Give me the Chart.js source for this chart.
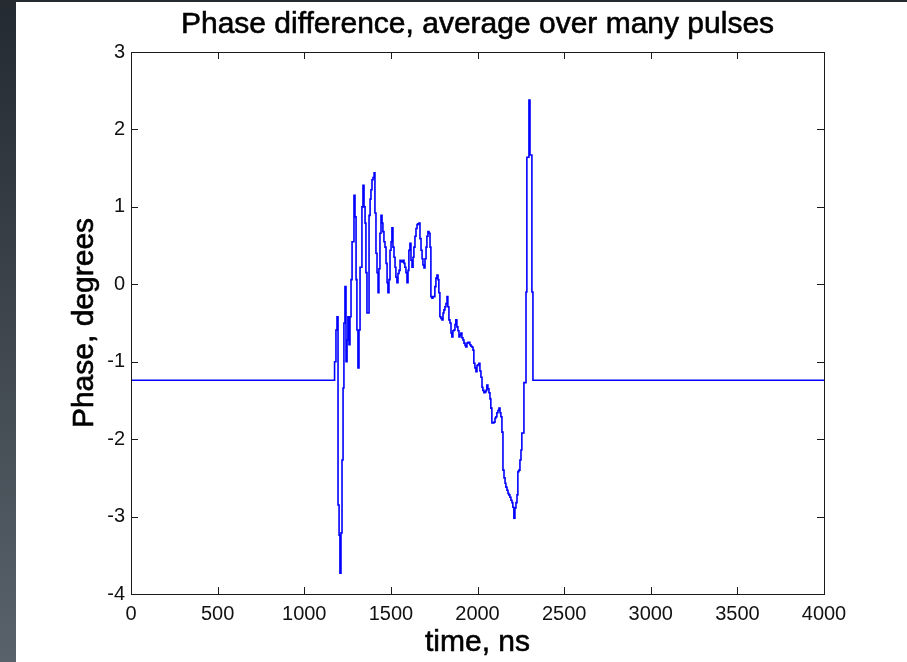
<!DOCTYPE html>
<html>
<head>
<meta charset="utf-8">
<script src="https://cdn.jsdelivr.net/npm/chart.js@4/dist/chart.umd.min.js"></script>
<style>
  html, body { margin: 0; padding: 0; width: 907px; height: 662px; overflow: hidden; background: #ffffff; }
  #strip { position: absolute; left: 0; top: 0; width: 16px; height: 662px; background: linear-gradient(#242a31, #59626b); }
  #topstrip { position: absolute; left: 0; top: 0; width: 907px; height: 2px; background: #262b31; }
  #c { position: absolute; left: 0; top: 0; }
</style>
</head>
<body>
<div id="strip"></div>
<div id="topstrip"></div>
<canvas id="c" width="907" height="662"></canvas>
<script>
const chartTitle = 'Phase difference, average over many pulses';
const xAxisTitle = 'time, ns';
const yAxisTitle = 'Phase, degrees';
const xTickValues = [0, 500, 1000, 1500, 2000, 2500, 3000, 3500, 4000];
const xTickLabels = ['0', '500', '1000', '1500', '2000', '2500', '3000', '3500', '4000'];
const yTickValues = [-4, -3, -2, -1, 0, 1, 2, 3];
const yTickLabels = ['-4', '-3', '-2', '-1', '0', '1', '2', '3'];

const timeNs = [0, 1175, 1183, 1189, 1195, 1201, 1206, 1212, 1218, 1224, 1229, 1235, 1241, 1247, 1252, 1258, 1264, 1270, 1276, 1281, 1287, 1293, 1299, 1304, 1310, 1316, 1322, 1327, 1333, 1339, 1345, 1351, 1356, 1362, 1368, 1374, 1380, 1385, 1391, 1397, 1403, 1408, 1414, 1420, 1426, 1431, 1437, 1443, 1449, 1454, 1460, 1466, 1472, 1478, 1483, 1489, 1495, 1501, 1506, 1512, 1518, 1524, 1529, 1535, 1541, 1547, 1553, 1558, 1564, 1570, 1576, 1581, 1587, 1593, 1599, 1604, 1610, 1616, 1622, 1628, 1633, 1639, 1645, 1651, 1656, 1662, 1668, 1674, 1680, 1685, 1691, 1697, 1703, 1708, 1714, 1720, 1726, 1731, 1737, 1743, 1749, 1754, 1760, 1766, 1772, 1777, 1783, 1789, 1795, 1801, 1806, 1812, 1818, 1824, 1829, 1835, 1841, 1847, 1852, 1858, 1864, 1870, 1875, 1881, 1887, 1893, 1899, 1904, 1910, 1916, 1922, 1928, 1933, 1939, 1945, 1951, 1956, 1962, 1968, 1974, 1979, 1985, 1991, 1997, 2002, 2008, 2014, 2020, 2026, 2031, 2037, 2043, 2049, 2054, 2060, 2066, 2072, 2077, 2083, 2089, 2095, 2101, 2106, 2112, 2118, 2124, 2130, 2135, 2141, 2147, 2153, 2159, 2164, 2170, 2176, 2181, 2187, 2193, 2199, 2204, 2210, 2216, 2222, 2228, 2233, 2239, 2245, 2251, 2256, 2262, 2268, 2274, 2280, 2285, 2291, 2297, 2303, 2308, 2314, 2320, 2326, 4000];

const phaseDeg = [-1.24, -1.24, -1.00, -0.59, -0.42, -2.85, -3.24, -3.73, -3.21, -2.27, -1.34, -0.50, -0.03, -1.00, -0.72, -0.42, -0.78, -0.42, 0.06, 0.55, 0.55, 1.15, 0.87, 0.06, -0.59, -1.08, -0.59, 0.22, 0.22, 1.00, 1.28, 1.00, 0.79, 0.15, -0.37, -0.37, 0.89, 1.10, 1.22, 1.35, 1.38, 1.44, 0.92, 0.40, 0.15, -0.11, 0.20, 0.66, 0.89, 0.79, 0.68, 0.55, 0.48, 0.27, 0.02, -0.11, 0.06, 0.44, 0.55, 0.73, 0.48, 0.35, 0.22, 0.09, 0.02, 0.14, 0.18, 0.31, 0.30, 0.29, 0.31, 0.27, 0.22, 0.15, 0.02, 0.18, 0.44, 0.53, 0.31, 0.22, 0.35, 0.48, 0.62, 0.72, 0.77, 0.78, 0.79, 0.59, 0.44, 0.33, 0.25, 0.21, 0.33, 0.48, 0.62, 0.68, 0.66, 0.48, -0.16, -0.18, -0.16, -0.16, -0.03, 0.08, 0.12, 0.06, -0.11, -0.42, -0.44, -0.46, -0.37, -0.33, -0.29, -0.25, -0.16, -0.29, -0.46, -0.50, -0.63, -0.68, -0.60, -0.59, -0.52, -0.46, -0.55, -0.60, -0.68, -0.65, -0.63, -0.69, -0.72, -0.76, -0.79, -0.81, -0.76, -0.75, -0.75, -0.78, -0.80, -0.81, -0.85, -1.02, -1.08, -1.13, -1.05, -1.04, -1.02, -1.12, -1.20, -1.33, -1.37, -1.40, -1.39, -1.37, -1.30, -1.35, -1.40, -1.48, -1.60, -1.79, -1.79, -1.78, -1.73, -1.71, -1.66, -1.63, -1.60, -1.66, -1.71, -1.91, -2.40, -2.50, -2.57, -2.62, -2.66, -2.70, -2.72, -2.75, -2.79, -2.82, -2.88, -3.02, -2.89, -2.82, -2.72, -2.42, -2.40, -2.27, -2.14, -1.92, -1.92, -1.27, -1.27, -0.10, 1.64, 1.64, 2.38, 1.67, 1.67, -0.10, -1.24, -1.24];

const points = timeNs.map((t, i) => ({ x: t, y: phaseDeg[i] }));

const tickFont = { family: "'Liberation Sans', Arial, sans-serif", size: 20 };
const bigFont = '30px "Liberation Sans", Arial, sans-serif';

function heavyText(ctx, text, x, y) {
  ctx.fillText(text, x, y);
  ctx.strokeText(text, x, y);
}

const boxTicksTitles = {
  id: 'boxTicksTitles',
  afterDraw(chart) {
    const { ctx, chartArea: a, scales: { x, y } } = chart;
    const len = 7;
    ctx.save();
    ctx.strokeStyle = '#1a1a1a';
    ctx.lineWidth = 1;
    ctx.beginPath();
    xTickValues.forEach(v => {
      if (v === x.min || v === x.max) return;
      const px = Math.round(x.getPixelForValue(v)) + 0.5;
      ctx.moveTo(px, a.bottom); ctx.lineTo(px, a.bottom - len);
      ctx.moveTo(px, a.top); ctx.lineTo(px, a.top + len);
    });
    yTickValues.forEach(v => {
      if (v === y.min || v === y.max) return;
      const py = Math.round(y.getPixelForValue(v)) + 0.5;
      ctx.moveTo(a.left, py); ctx.lineTo(a.left + len, py);
      ctx.moveTo(a.right, py); ctx.lineTo(a.right - len, py);
    });
    ctx.stroke();
    ctx.strokeRect(Math.round(a.left) + 0.5, Math.round(a.top) + 0.5, Math.round(a.right - a.left), Math.round(a.bottom - a.top));

    ctx.font = bigFont;
    ctx.fillStyle = '#000000';
    ctx.strokeStyle = '#000000';
    ctx.lineWidth = 0.6;
    ctx.textAlign = 'center';
    ctx.textBaseline = 'alphabetic';
    const cx = (a.left + a.right) / 2;
    const cy = (a.top + a.bottom) / 2;
    heavyText(ctx, chartTitle, cx, 33);
    heavyText(ctx, xAxisTitle, cx, 651);
    ctx.translate(93, cy);
    ctx.rotate(-Math.PI / 2);
    heavyText(ctx, yAxisTitle, 0, 0);
    ctx.restore();
  }
};

new Chart(document.getElementById('c'), {
  type: 'line',
  data: {
    datasets: [{
      data: points,
      borderColor: '#0000ff',
      borderWidth: 1.6,
      pointRadius: 0,
      tension: 0,
      stepped: 'after',
      fill: false
    }]
  },
  options: {
    responsive: false,
    animation: false,
    devicePixelRatio: 1,
    layout: { padding: { top: 52, right: 83, bottom: 0, left: 0 } },
    plugins: {
      legend: { display: false },
      tooltip: { enabled: false },
      title: { display: false }
    },
    scales: {
      x: {
        type: 'linear',
        min: 0,
        max: 4000,
        afterFit(s) { s.height = 68; },
        afterBuildTicks(s) { s.ticks = xTickValues.map(v => ({ value: v })); },
        ticks: {
          color: '#111111',
          font: tickFont,
          padding: 8,
          maxRotation: 0,
          autoSkip: false,
          callback: (v) => { const i = xTickValues.indexOf(v); return i >= 0 ? xTickLabels[i] : ''; }
        },
        grid: { display: false, drawTicks: false },
        border: { display: false },
        title: { display: false }
      },
      y: {
        type: 'linear',
        min: -4,
        max: 3,
        afterFit(s) { s.width = 131; },
        afterBuildTicks(s) { s.ticks = yTickValues.map(v => ({ value: v })); },
        ticks: {
          color: '#111111',
          font: tickFont,
          padding: 6,
          autoSkip: false,
          callback: (v) => { const i = yTickValues.indexOf(v); return i >= 0 ? yTickLabels[i] : ''; }
        },
        grid: { display: false, drawTicks: false },
        border: { display: false },
        title: { display: false }
      }
    }
  },
  plugins: [boxTicksTitles]
});
</script>
</body>
</html>
